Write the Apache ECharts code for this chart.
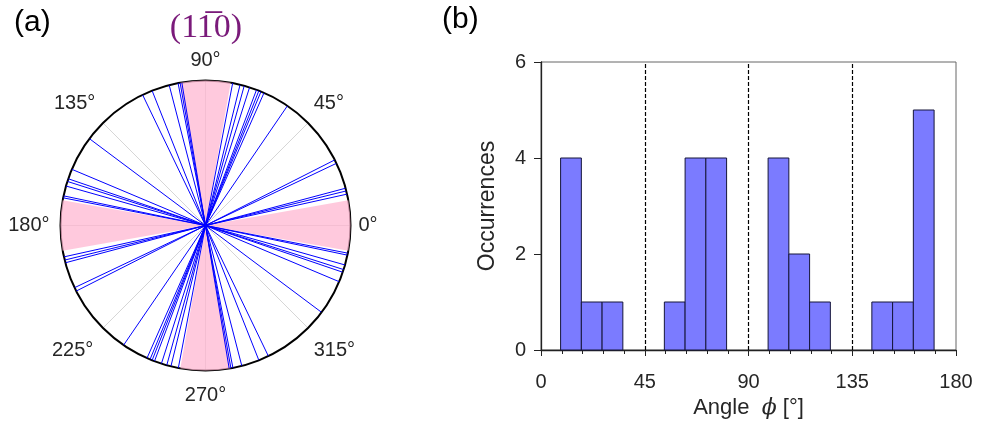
<!DOCTYPE html>
<html>
<head>
<meta charset="utf-8">
<script src="https://cdn.jsdelivr.net/npm/echarts@6/dist/echarts.min.js"></script>
<style>html,body{margin:0;padding:0;background:#fff}#c{width:982px;height:430px}</style>
</head>
<body>
<div id="c"></div>
<script>
// ---- data ----
// (a) directions of lines (degrees, 0-180); each is drawn as a full diameter
const lineAngles = [12.5, 13.8, 14.9, 25.4, 26.9, 55.6, 66.2, 67.5, 68.4, 69.4, 72.3, 74.5, 76.2, 79.2,
                    99.4, 100.1, 100.9, 104.5, 111.6, 115.7, 143.2, 157.2, 161.2, 162.3, 164.2, 168.2, 169.0];
// highlighted sectors: centre angle and half-width (degrees)
const sectorCenters = [0, 90, 180, 270];
const sectorHalfWidth = 10;
const angleTicks = [0, 45, 90, 135, 180, 225, 270, 315];
// (b) histogram
const binStarts = [8.5, 17.5, 26.5, 53.5, 62.5, 71.5, 98.5, 107.5, 116.5, 143.5, 152.5, 161.5];
const binWidth = 9;
const binCounts = [4, 1, 1, 1, 4, 4, 4, 2, 1, 1, 1, 5];
const xTicks = [0, 45, 90, 135, 180];
const yTicks = [0, 2, 4, 6];
const dashedAt = [45, 90, 135];

// ---- chart ----
const FONT = 'Liberation Sans';
const chart = echarts.init(document.getElementById('c'), null, {renderer: 'canvas'});

const series = [];
// pink sectors
series.push({
  type: 'custom',
  coordinateSystem: 'polar',
  silent: true,
  z: 1,
  data: sectorCenters.map(c => [1, c]),
  renderItem: function (params, api) {
    const c = api.value(1);
    const o = api.coord([0, 0]);
    const e = api.coord([1, 0]);
    const r = Math.hypot(e[0] - o[0], e[1] - o[1]);
    const d2r = Math.PI / 180;
    return {
      type: 'sector',
      shape: {cx: o[0], cy: o[1], r0: 0, r: r,
              startAngle: -(c + sectorHalfWidth) * d2r, endAngle: -(c - sectorHalfWidth) * d2r, clockwise: true},
      style: {fill: 'rgba(255,180,208,0.72)', stroke: null}
    };
  }
});
// blue diameters
lineAngles.forEach(a => {
  series.push({
    type: 'line',
    coordinateSystem: 'polar',
    silent: true,
    symbol: 'none',
    z: 3,
    lineStyle: {color: '#0000ff', width: 1},
    data: [[1, a], [1, a + 180]]
  });
});
// histogram bars
series.push({
  type: 'custom',
  xAxisIndex: 0,
  yAxisIndex: 0,
  silent: true,
  z: 3,
  encode: {x: [0, 1], y: 2},
  data: binStarts.map((s, i) => [s, s + binWidth, binCounts[i]]),
  renderItem: function (params, api) {
    const p0 = api.coord([api.value(0), api.value(2)]);
    const p1 = api.coord([api.value(1), 0]);
    return {type: 'rect', shape: {x: p0[0], y: p0[1], width: p1[0] - p0[0], height: p1[1] - p0[1]},
            style: {fill: '#7b7bff', stroke: '#16163a', lineWidth: 1}};
  },
  markLine: {
    silent: true,
    symbol: ['none', 'none'],
    label: {show: false},
    lineStyle: {color: '#000', type: [4, 2], width: 1.2},
    data: dashedAt.map(v => ({xAxis: v}))
  }
});

const lbl = p => ({fontSize: 20, color: '#262626', fontFamily: FONT, padding: p});
const labelClass = {0: 'e', 45: 'ne', 90: 'n', 135: 'nw', 180: 'w', 225: 'sw', 270: 's', 315: 'se'};

chart.setOption({
  animation: false,
  backgroundColor: '#fff',
  textStyle: {fontFamily: FONT},
  polar: {center: [205.5, 225.5], radius: 145},
  angleAxis: {
    type: 'value', min: 0, max: 360, interval: 45, startAngle: 0, clockwise: false,
    axisLine: {show: true, lineStyle: {color: '#000', width: 2}},
    axisTick: {show: false},
    splitLine: {show: true, lineStyle: {color: '#d6d6d6', width: 1}},
    axisLabel: {
      show: true, margin: 8, fontSize: 20, color: '#262626', fontFamily: FONT,
      formatter: v => angleTicks.indexOf(v) >= 0 ? '{' + labelClass[v] + '|' + v + '°}' : '',
      rich: {
        e: lbl([0, 0, 0, 0]),
        ne: lbl([0, 0, 4, 0]),
        n: lbl([0, 0, 2, 0]),
        nw: lbl([0, 2, 4, 0]),
        w: lbl([0, 3, 0, 0]),
        sw: lbl([7, 4, 0, 0]),
        s: lbl([7, 0, 0, 0]),
        se: lbl([7, 0, 0, 0])
      }
    }
  },
  radiusAxis: {
    type: 'value', min: 0, max: 1,
    axisLine: {show: false}, axisTick: {show: false}, axisLabel: {show: false}, splitLine: {show: false}
  },
  grid: {left: 541, right: 26, top: 62, bottom: 80, show: true, borderColor: '#666', borderWidth: 1},
  xAxis: {
    type: 'value', min: xTicks[0], max: xTicks[xTicks.length - 1], interval: 45,
    axisLine: {show: true, lineStyle: {color: '#222', width: 1.3}},
    axisTick: {show: true, length: 6, lineStyle: {color: '#222'}},
    minorTick: {show: true, splitNumber: 5, length: 4, lineStyle: {color: '#222'}},
    splitLine: {show: false},
    axisLabel: {fontSize: 20, color: '#262626', margin: 22, fontFamily: FONT},
    name: '{a|Angle  }{b|ϕ}{a| [°]}',
    nameLocation: 'middle', nameGap: 47,
    nameTextStyle: {
      rich: {
        a: {fontSize: 22, color: '#262626', fontFamily: FONT},
        b: {fontSize: 22, color: '#262626', fontFamily: 'DejaVu Serif', fontStyle: 'italic'}
      }
    }
  },
  yAxis: {
    type: 'value', min: yTicks[0], max: yTicks[yTicks.length - 1], interval: 2,
    axisLine: {show: true, lineStyle: {color: '#222', width: 1.3}},
    axisTick: {show: true, length: 7, lineStyle: {color: '#222'}},
    splitLine: {show: false},
    axisLabel: {fontSize: 20, color: '#262626', margin: 15, fontFamily: FONT},
    name: 'Occurrences', nameLocation: 'middle', nameGap: 42,
    nameTextStyle: {fontSize: 23, color: '#262626', fontFamily: FONT}
  },
  graphic: [
    {type: 'text', left: 14, top: 8, style: {text: '(a)', fontSize: 30, fill: '#000', fontFamily: FONT}},
    {type: 'text', left: 442, top: 5, style: {text: '(b)', fontSize: 30, fill: '#000', fontFamily: FONT}},
    {type: 'text', x: 206, y: 28, style: {text: '(11\u03050)', fontSize: 34, fill: '#7a1a7a',
      fontFamily: 'Liberation Serif', align: 'center', verticalAlign: 'middle'}}
  ],
  series: series
});
</script>
</body>
</html>
